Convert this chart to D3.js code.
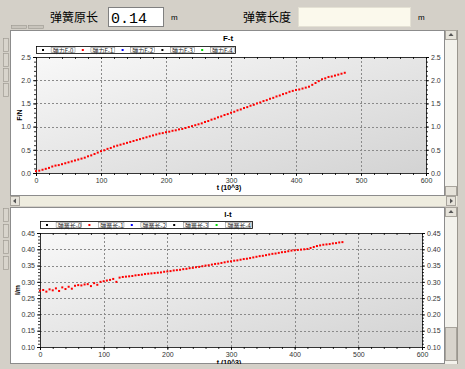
<!DOCTYPE html>
<html>
<head>
<meta charset="utf-8">
<script src="https://cdn.jsdelivr.net/npm/d3@7"></script>
<style>
  body { margin: 0; background: #d4d0c8; overflow: hidden; }
  svg { display: block; }
  text { font-family: "Liberation Sans", Arial, sans-serif; }
</style>
</head>
<body>
<svg id="chart" width="465" height="369"></svg>
<script>
// sample times (10^3)
var times = [
  0,5,10,15,20,25,30,35,40,45,
  50,55,60,65,70,75,80,85,90,95,
  100,105,110,115,120,125,130,135,140,145,
  150,155,160,165,170,175,180,185,190,195,
  200,205,210,215,220,225,230,235,240,245,
  250,255,260,265,270,275,280,285,290,295,
  300,305,310,315,320,325,330,335,340,345,
  350,355,360,365,370,375,380,385,390,395,
  400,405,410,415,420,425,430,435,440,445,
  450,455,460,465,470,475
];
// spring force F (N)
var forceValues = [
  0.04,0.05,0.07,0.09,0.11,0.14,0.16,0.17,0.19,0.21,
  0.23,0.25,0.27,0.29,0.31,0.33,0.36,0.38,0.41,0.44,
  0.47,0.49,0.52,0.54,0.57,0.59,0.61,0.63,0.65,0.67,
  0.69,0.71,0.73,0.75,0.77,0.79,0.81,0.83,0.85,0.86,
  0.88,0.89,0.91,0.92,0.94,0.95,0.97,0.99,1.01,1.03,
  1.05,1.07,1.10,1.12,1.15,1.17,1.20,1.22,1.25,1.27,
  1.30,1.32,1.35,1.37,1.40,1.42,1.45,1.47,1.50,1.52,
  1.55,1.57,1.60,1.62,1.65,1.67,1.70,1.72,1.75,1.77,
  1.79,1.80,1.82,1.84,1.86,1.90,1.94,1.98,2.02,2.04,
  2.07,2.08,2.10,2.12,2.14,2.16
];
// spring length l (m)
var lengthValues = [
  0.273,0.275,0.270,0.277,0.274,0.280,0.272,0.283,0.278,0.285,
  0.279,0.288,0.290,0.289,0.292,0.293,0.287,0.296,0.291,0.300,
  0.302,0.304,0.306,0.309,0.300,0.313,0.315,0.316,0.317,0.318,
  0.320,0.321,0.322,0.324,0.325,0.326,0.327,0.328,0.329,0.331,
  0.332,0.333,0.335,0.336,0.337,0.339,0.340,0.342,0.343,0.345,
  0.346,0.348,0.350,0.351,0.353,0.355,0.356,0.358,0.360,0.362,
  0.363,0.365,0.366,0.368,0.370,0.371,0.373,0.375,0.377,0.379,
  0.380,0.382,0.384,0.386,0.387,0.389,0.391,0.392,0.394,0.396,
  0.397,0.398,0.399,0.400,0.401,0.404,0.407,0.410,0.412,0.414,
  0.415,0.416,0.418,0.419,0.421,0.422
];

var xTicks = [0, 100, 200, 300, 400, 500, 600];
var forceTicks = [0.0, 0.5, 1.0, 1.5, 2.0, 2.5];
var lengthTicks = [0.10, 0.15, 0.20, 0.25, 0.30, 0.35, 0.40, 0.45];
var forceLegend = ['弹力F-0', '弹力F-1', '弹力F-2', '弹力F-3', '弹力F-4'];
var lengthLegend = ['弹簧长-0', '弹簧长-1', '弹簧长-2', '弹簧长-3', '弹簧长-4'];
var legendColors = ['#000000', '#ff0000', '#0000ff', '#000000', '#00dd00'];
var originalLength = '0.14';

var svg = d3.select('#chart');
var cjk = '"Noto Sans CJK SC", sans-serif';

var defs = svg.append('defs');
var grad = defs.append('linearGradient').attr('id', 'plotbg')
  .attr('x1', 0).attr('y1', 0).attr('x2', 1).attr('y2', 1);
grad.append('stop').attr('offset', '0%').attr('stop-color', '#f8f8f8');
grad.append('stop').attr('offset', '100%').attr('stop-color', '#d3d3d3');

// ---- top input row ----
svg.append('text').attr('x', 50).attr('y', 22).style('font-family', cjk)
  .style('font-size', '12px').attr('fill', '#000').text('弹簧原长');
svg.append('rect').attr('x', 108.5).attr('y', 7.5).attr('width', 55).attr('height', 19)
  .attr('fill', '#fff').attr('stroke', '#808080');
svg.append('text').attr('x', 111).attr('y', 23).style('font-family', '"Liberation Mono", monospace')
  .style('font-size', '15px').attr('fill', '#000').text(originalLength);
svg.append('text').attr('x', 171).attr('y', 20).style('font-size', '8px').attr('fill', '#000').text('m');

svg.append('text').attr('x', 243).attr('y', 22).style('font-family', cjk)
  .style('font-size', '12px').attr('fill', '#000').text('弹簧长度');
svg.append('rect').attr('x', 298.5).attr('y', 7.5).attr('width', 112).attr('height', 19)
  .attr('fill', '#fbf9ec').attr('stroke', '#e4e1d4');
svg.append('text').attr('x', 418).attr('y', 20).style('font-size', '8px').attr('fill', '#000').text('m');

// small tabs above first panel
[[11, 15], [28, 15]].forEach(function (b) {
  svg.append('rect').attr('x', b[0] + 0.5).attr('y', 25.5).attr('width', b[1]).attr('height', 3)
    .attr('fill', '#c8c4bc').attr('stroke', '#9a968e').attr('stroke-width', 0.6);
});

function sideTabs(ys) {
  ys.forEach(function (y) {
    svg.append('rect').attr('x', 3.5).attr('y', y + 0.5).attr('width', 5).attr('height', 13)
      .attr('fill', '#d8d4cc').attr('stroke', '#a09c94').attr('stroke-width', 0.7);
  });
}
sideTabs([38, 53, 68, 83]);
sideTabs([208, 224, 240, 256]);

function vScroll(y0, y1, thumb) {
  svg.append('rect').attr('x', 445).attr('y', y0).attr('width', 12).attr('height', y1 - y0)
    .attr('fill', '#f3f2ec');
  svg.append('line').attr('x1', 457.5).attr('x2', 457.5).attr('y1', y0).attr('y2', y1)
    .attr('stroke', '#9a968e');
  svg.append('rect').attr('x', 445.5).attr('y', y0 + 0.5).attr('width', 11).attr('height', 9)
    .attr('fill', '#e6e3da').attr('stroke', '#a8a49c');
  svg.append('path').attr('d', 'M451,' + (y0 + 3) + 'l-2.5,3h5z').attr('fill', '#555');
  if (thumb) {
    svg.append('rect').attr('x', 445.5).attr('y', thumb[0] + 0.5).attr('width', 11)
      .attr('height', thumb[1] - thumb[0]).attr('fill', '#d8d4cc').attr('stroke', '#a8a49c');
  } else {
    svg.append('rect').attr('x', 445.5).attr('y', y1 - 9.5).attr('width', 11).attr('height', 9)
      .attr('fill', '#e6e3da').attr('stroke', '#a8a49c');
  }
}

function panel(y0, y1) {
  svg.append('rect').attr('x', 10.5).attr('y', y0 + 0.5).attr('width', 434).attr('height', y1 - y0)
    .attr('fill', '#fff').attr('stroke', '#8c8c8c');
}

panel(30, 195);
vScroll(30, 196, null);

// horizontal scrollbar between the panels
svg.append('rect').attr('x', 10).attr('y', 196).attr('width', 447).attr('height', 10).attr('fill', '#eeecdf');
svg.append('rect').attr('x', 10.5).attr('y', 196.5).attr('width', 9).attr('height', 9)
  .attr('fill', '#e6e3da').attr('stroke', '#a8a49c');
svg.append('path').attr('d', 'M13,201l3,-2.5v5z').attr('fill', '#555');
svg.append('rect').attr('x', 446.5).attr('y', 196.5).attr('width', 9).attr('height', 9)
  .attr('fill', '#e6e3da').attr('stroke', '#a8a49c');
svg.append('path').attr('d', 'M453,201l-3,-2.5v5z').attr('fill', '#555');

panel(207, 363);
vScroll(207, 364, [327, 360]);

function drawChart(o) {
  var g = svg.append('g');
  var x = d3.scaleLinear().domain([0, 600]).range([o.x0, o.x1]);
  var y = d3.scaleLinear().domain(o.yDomain).range([o.y1, o.y0]);

  g.append('rect').attr('x', o.x0).attr('y', o.y0).attr('width', o.x1 - o.x0)
    .attr('height', o.y1 - o.y0).attr('fill', 'url(#plotbg)');

  // dotted grid
  g.selectAll('.gx').data(xTicks.slice(1, -1)).enter().append('line')
    .attr('x1', function (d) { return Math.round(x(d)) + 0.5; })
    .attr('x2', function (d) { return Math.round(x(d)) + 0.5; })
    .attr('y1', o.y0).attr('y2', o.y1)
    .attr('stroke', '#8a8a8a').attr('stroke-dasharray', '2,2');
  g.selectAll('.gy').data(o.yTicks.slice(1, -1)).enter().append('line')
    .attr('y1', function (d) { return Math.round(y(d)) + 0.5; })
    .attr('y2', function (d) { return Math.round(y(d)) + 0.5; })
    .attr('x1', o.x0).attr('x2', o.x1)
    .attr('stroke', '#8a8a8a').attr('stroke-dasharray', '2,2');

  var minorX = d3.range(0, 601, 20);
  var minorY = d3.range(o.yDomain[0], o.yDomain[1] + o.minor / 2, o.minor);

  function axis(gen, tr, vals, size, fmt) {
    var a = g.append('g').attr('transform', tr)
      .call(gen.tickValues(vals).tickSize(size).tickPadding(2).tickFormat(fmt));
    a.selectAll('path,line').attr('stroke', '#000').attr('stroke-width', 0.8);
    a.selectAll('text').style('font-size', '7px').attr('fill', '#333');
    return a;
  }
  var yf = d3.format(o.yFmt);
  var none = function () { return ''; };

  axis(d3.axisBottom(x), 'translate(0,' + o.y1 + ')', xTicks, 3, d3.format('d'));
  axis(d3.axisBottom(x), 'translate(0,' + o.y1 + ')', minorX, 2, none).select('.domain').remove();
  axis(d3.axisTop(x), 'translate(0,' + o.y0 + ')', minorX, -2, none);
  axis(d3.axisLeft(y), 'translate(' + o.x0 + ',0)', o.yTicks, 3, yf);
  axis(d3.axisLeft(y), 'translate(' + o.x0 + ',0)', minorY, 2, none).select('.domain').remove();
  axis(d3.axisRight(y), 'translate(' + o.x1 + ',0)', o.yTicks, 3, yf);
  axis(d3.axisRight(y), 'translate(' + o.x1 + ',0)', minorY, 2, none).select('.domain').remove();

  // points
  g.selectAll('.pt').data(o.values).enter().append('rect')
    .attr('x', function (d, i) { return x(times[i]) - 1; })
    .attr('y', function (d) { return y(d) - 1; })
    .attr('width', 2).attr('height', 2).attr('fill', '#ff0000');

  // title
  g.append('text').attr('x', 228).attr('y', o.titleY).attr('text-anchor', 'middle')
    .style('font-size', '8px').style('font-weight', 'bold').attr('fill', '#000').text(o.title);

  // legend
  var lw = o.legend[1] - o.legend[0], step = lw / 5;
  g.append('rect').attr('x', o.legend[0] + 0.5).attr('y', o.legend[2] + 0.5)
    .attr('width', lw).attr('height', 7).attr('fill', '#fff').attr('stroke', '#000').attr('stroke-width', 0.8);
  o.labels.forEach(function (lab, i) {
    var lx = o.legend[0] + i * step;
    g.append('rect').attr('x', lx + 6).attr('y', o.legend[2] + 3).attr('width', 2).attr('height', 2)
      .attr('fill', legendColors[i]);
    g.append('text').attr('x', lx + step * 0.42).attr('y', o.legend[2] + 6.5)
      .style('font-family', cjk).style('font-size', '6px').attr('fill', '#222').text(lab);
    g.append('rect').attr('x', lx + step * 0.38).attr('y', o.legend[2] + 1.5)
      .attr('width', step * 0.6).attr('height', 5).attr('fill', 'none')
      .attr('stroke', '#777').attr('stroke-width', 0.5);
  });

  // axis titles
  g.append('text').attr('x', (o.x0 + o.x1) / 2 - 2).attr('y', o.xTitleY).attr('text-anchor', 'middle')
    .style('font-size', '7px').style('font-weight', 'bold').attr('fill', '#000').text('t (10^3)');
  g.append('text').attr('transform', 'translate(' + o.yTitleX + ',' + ((o.y0 + o.y1) / 2) + ') rotate(-90)')
    .attr('text-anchor', 'middle').style('font-size', '7px').style('font-weight', 'bold')
    .attr('fill', '#000').text(o.yTitle);
}

drawChart({
  x0: 36, x1: 426, y0: 57, y1: 173,
  yDomain: [0, 2.5], yTicks: forceTicks, minor: 0.1, yFmt: '.1f',
  values: forceValues, title: 'F-t', titleY: 41,
  legend: [36, 235, 46], labels: forceLegend,
  xTitleY: 190, yTitle: 'F/N', yTitleX: 22
});

drawChart({
  x0: 40, x1: 422, y0: 233, y1: 347,
  yDomain: [0.10, 0.45], yTicks: lengthTicks, minor: 0.01, yFmt: '.2f',
  values: lengthValues, title: 'l-t', titleY: 217,
  legend: [40, 252, 221], labels: lengthLegend,
  xTitleY: 365, yTitle: 'l/m', yTitleX: 20
});

// cover below the second panel
svg.append('rect').attr('x', 0).attr('y', 364).attr('width', 465).attr('height', 5).attr('fill', '#d4d0c8');
</script>
</body>
</html>
